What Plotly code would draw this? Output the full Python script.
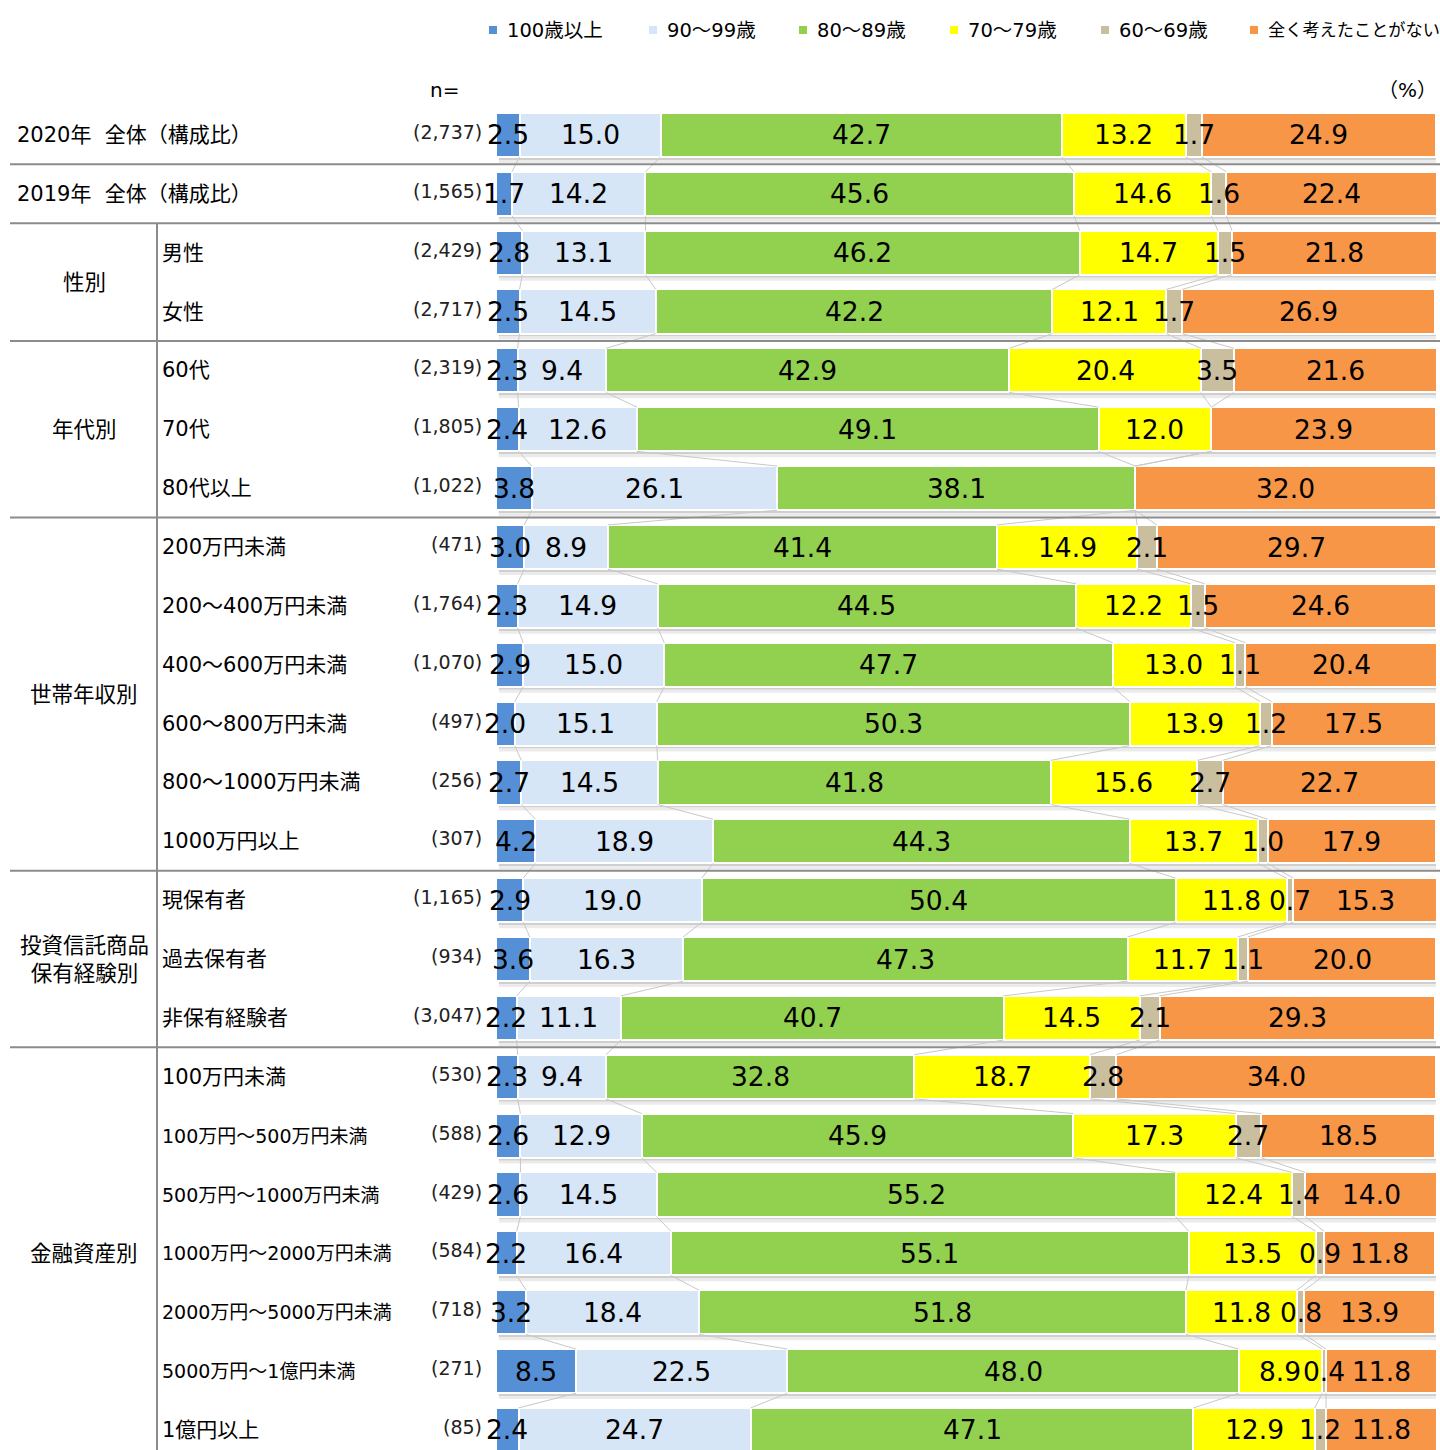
import plotly.graph_objects as go

W, H = 1440, 1450

categories = ["2020年\u00a0\u00a0全体（構成比）", "2019年\u00a0\u00a0全体（構成比）", "男性", "女性",
              "60代", "70代", "80代以上",
              "200万円未満", "200～400万円未満", "400～600万円未満", "600～800万円未満",
              "800～1000万円未満", "1000万円以上",
              "現保有者", "過去保有者", "非保有経験者",
              "100万円未満", "100万円～500万円未満", "500万円～1000万円未満",
              "1000万円～2000万円未満", "2000万円～5000万円未満", "5000万円～1億円未満", "1億円以上"]
n_labels = ["(2,737)", "(1,565)", "(2,429)", "(2,717)", "(2,319)", "(1,805)", "(1,022)",
            "(471)", "(1,764)", "(1,070)", "(497)", "(256)", "(307)",
            "(1,165)", "(934)", "(3,047)",
            "(530)", "(588)", "(429)", "(584)", "(718)", "(271)", "(85)"]
groups = ["性別", "年代別", "世帯年収別", "投資信託商品<br>保有経験別", "金融資産別"]
group_rows = [(2, 3), (4, 6), (7, 12), (13, 15), (16, 22)]
separators_after = [0, 1, 3, 6, 12, 15]

series_names = ["100歳以上", "90～99歳", "80～89歳", "70～79歳", "60～69歳", "全く考えたことがない"]
s100 = [2.5, 1.7, 2.8, 2.5, 2.3, 2.4, 3.8, 3.0, 2.3, 2.9, 2.0, 2.7, 4.2, 2.9, 3.6, 2.2,
        2.3, 2.6, 2.6, 2.2, 3.2, 8.5, 2.4]
s90 = [15.0, 14.2, 13.1, 14.5, 9.4, 12.6, 26.1, 8.9, 14.9, 15.0, 15.1, 14.5, 18.9, 19.0, 16.3, 11.1,
       9.4, 12.9, 14.5, 16.4, 18.4, 22.5, 24.7]
s80 = [42.7, 45.6, 46.2, 42.2, 42.9, 49.1, 38.1, 41.4, 44.5, 47.7, 50.3, 41.8, 44.3, 50.4, 47.3, 40.7,
       32.8, 45.9, 55.2, 55.1, 51.8, 48.0, 47.1]
s70 = [13.2, 14.6, 14.7, 12.1, 20.4, 12.0, 0.0, 14.9, 12.2, 13.0, 13.9, 15.6, 13.7, 11.8, 11.7, 14.5,
       18.7, 17.3, 12.4, 13.5, 11.8, 8.9, 12.9]
s60 = [1.7, 1.6, 1.5, 1.7, 3.5, 0.0, 0.0, 2.1, 1.5, 1.1, 1.2, 2.7, 1.0, 0.7, 1.1, 2.1,
       2.8, 2.7, 1.4, 0.9, 0.8, 0.4, 1.2]
snone = [24.9, 22.4, 21.8, 26.9, 21.6, 23.9, 32.0, 29.7, 24.6, 20.4, 17.5, 22.7, 17.9, 15.3, 20.0, 29.3,
         34.0, 18.5, 14.0, 11.8, 13.9, 11.8, 11.8]
series_values = [s100, s90, s80, s70, s60, snone]
colors = ["#5590D6", "#D7E6F6", "#92D050", "#FFFF00", "#C9BE9E", "#F79646"]

NUM = "DejaVu Sans, Noto Sans CJK JP"

rows = list(range(len(categories)))
fig = go.Figure()

for name, vals, col in zip(series_names, series_values, colors):
    fig.add_trace(go.Bar(
        y=rows, x=vals, name=name, orientation="h", width=0.75,
        marker=dict(color=col, line=dict(color="white", width=2)),
        showlegend=False, hoverinfo="skip",
    ))

# cumulative boundaries per row
starts, cums = [], []
for i in rows:
    acc, st, c = 0.0, [], []
    for vals in series_values:
        st.append(acc)
        acc += vals[i]
        c.append(acc)
    starts.append(st)
    cums.append(c)

# series (connector) lines between consecutive bars
lx, ly = [], []
for i in rows[:-1]:
    for k in range(len(series_values) - 1):
        lx += [cums[i][k], cums[i + 1][k], None]
        ly += [i + 0.375, i + 1 - 0.375, None]
fig.add_trace(go.Scatter(x=lx, y=ly, mode="lines", line=dict(color="#C8C8C8", width=1),
                         showlegend=False, hoverinfo="skip"))


def px(x):
    return x / W


def py(y):
    return 1 - y / H


top = 105.5
fig.update_layout(
    width=W, height=H, margin=dict(l=0, r=0, t=0, b=0),
    plot_bgcolor="white", paper_bgcolor="white",
    barmode="stack", bargap=0.25,
    xaxis=dict(domain=[px(496), px(1436)], range=[0, 100], visible=False, fixedrange=True),
    yaxis=dict(domain=[0, py(top)], range=[22.34, -0.5], visible=False, fixedrange=True),
    showlegend=False,
)

annotations = []
shapes = []

# soft shadow under each bar
for i in rows:
    shapes.append(dict(type="rect", xref="x", yref="y", x0=0.3, x1=100.3,
                       y0=i + 0.375, y1=i + 0.375 + 0.05, fillcolor="#CFCFCF",
                       line=dict(width=0), layer="below"))
    shapes.append(dict(type="rect", xref="x", yref="y", x0=0.3, x1=100.3,
                       y0=i + 0.375 + 0.05, y1=i + 0.375 + 0.1, fillcolor="#EBEBEB",
                       line=dict(width=0), layer="below"))

# legend (symbol squares + names)
legend_text_x = [505, 665, 815, 966, 1117, 1266]
legend_sizes = [19.5, 19.5, 19.5, 19.5, 19.5, 17.2]
for name, col, tx, fs in zip(series_names, colors, legend_text_x, legend_sizes):
    shapes.append(dict(type="rect", xref="paper", yref="paper",
                       x0=px(tx - 16), x1=px(tx - 8), y0=py(34), y1=py(26),
                       fillcolor=col, line=dict(width=0)))
    annotations.append(dict(x=px(tx), y=py(30), xref="paper", yref="paper", text=name,
                            showarrow=False, xanchor="left", yanchor="middle",
                            font=dict(family=NUM, size=fs, color="black")))

# value labels centred in each segment
for k, vals in enumerate(series_values):
    for i in rows:
        v = vals[i]
        if v <= 0:
            continue
        annotations.append(dict(x=starts[i][k] + v / 2, y=i, xref="x", yref="y",
                                text=f"{v:.1f}", showarrow=False,
                                xanchor="center", yanchor="middle",
                                font=dict(family=NUM, size=26.5, color="black")))

for i, (cat, n) in enumerate(zip(categories, n_labels)):
    xl = px(15) if i < 2 else px(160)
    size = 19 if 17 <= i <= 21 else 21
    annotations.append(dict(x=xl, y=i, xref="paper", yref="y", text=cat, showarrow=False,
                            xanchor="left", yanchor="middle",
                            font=dict(family=NUM, size=size, color="black")))
    annotations.append(dict(x=px(484), y=i - 0.05, xref="paper", yref="y", text=n, showarrow=False,
                            xanchor="right", yanchor="middle",
                            font=dict(family=NUM, size=19, color="#222")))
for g, (a, b) in zip(groups, group_rows):
    annotations.append(dict(x=px(84), y=(a + b) / 2, xref="paper", yref="y", text=g, showarrow=False,
                            xanchor="center", yanchor="middle",
                            font=dict(family=NUM, size=21.5, color="black")))
annotations.append(dict(x=px(428), y=py(90), xref="paper", yref="paper", text="n=", showarrow=False,
                        xanchor="left", yanchor="middle", font=dict(family=NUM, size=20, color="black")))
annotations.append(dict(x=px(1439), y=py(90), xref="paper", yref="paper", text="（%）", showarrow=False,
                        xanchor="right", yanchor="middle", font=dict(family=NUM, size=20, color="black")))

for s in separators_after:
    shapes.append(dict(type="line", xref="paper", yref="y", x0=px(10), x1=1, y0=s + 0.5, y1=s + 0.5,
                       line=dict(color="#8C8C8C", width=2), layer="above"))
shapes.append(dict(type="line", xref="paper", yref="y", x0=px(157), x1=px(157), y0=1.5, y1=23,
                   line=dict(color="#8C8C8C", width=2)))

fig.update_layout(annotations=annotations, shapes=shapes)

fig.write_html("out.html", config={"displayModeBar": False},
               post_script="document.body.style.margin='0';")
